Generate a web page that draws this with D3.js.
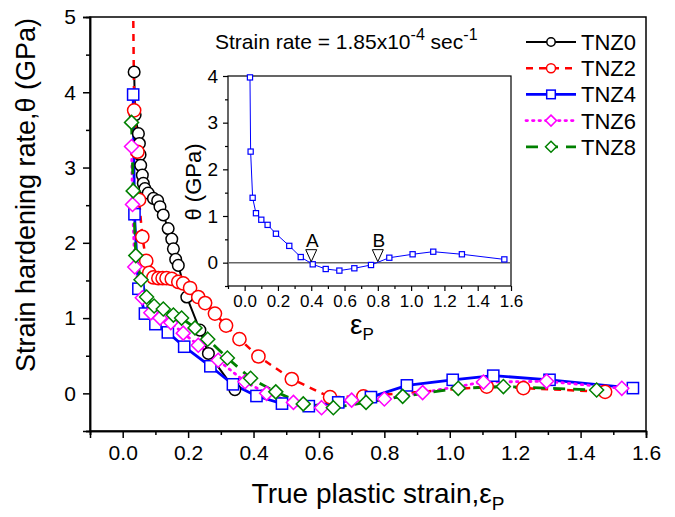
<!DOCTYPE html>
<html><head><meta charset="utf-8">
<script src="https://cdn.jsdelivr.net/npm/d3@7"></script>
<style>
html,body{margin:0;padding:0;background:#fff;}
svg text{font-family:Arial,"Liberation Sans",sans-serif;fill:#000;}
</style></head>
<body><svg id="c" width="675" height="517"></svg>
<script>
// ---- data ----
const seriesNames = ["TNZ0","TNZ2","TNZ4","TNZ6","TNZ8"];
const tnz0 = [[0.035,4.27],[0.038,3.70],[0.048,3.45],[0.051,3.32],[0.053,3.17],[0.055,3.03],[0.060,2.90],[0.063,2.79],[0.068,2.72],[0.078,2.66],[0.094,2.59],[0.107,2.56],[0.114,2.48],[0.124,2.37],[0.139,2.19],[0.150,2.05],[0.155,1.92],[0.162,1.78],[0.170,1.70],[0.196,1.28],[0.236,0.84],[0.262,0.53],[0.343,0.05]];
const tnz2 = [[0.029,6.5],[0.035,3.76],[0.045,3.21],[0.050,2.57],[0.060,2.08],[0.072,1.76],[0.081,1.60],[0.094,1.54],[0.109,1.53],[0.122,1.53],[0.134,1.53],[0.150,1.52],[0.170,1.48],[0.185,1.46],[0.206,1.40],[0.231,1.28],[0.252,1.20],[0.282,1.06],[0.316,0.90],[0.357,0.72],[0.415,0.49],[0.517,0.19],[0.634,-0.05],[0.736,-0.04],[1.113,0.09],[1.225,0.07],[1.475,0.02]];
const tnz4 = [[0.032,3.97],[0.036,2.38],[0.048,1.39],[0.068,1.06],[0.100,0.92],[0.138,0.81],[0.188,0.62],[0.268,0.36],[0.337,0.12],[0.409,-0.035],[0.487,-0.136],[0.569,-0.17],[0.659,-0.12],[0.759,-0.05],[0.869,0.106],[1.009,0.18],[1.133,0.235],[1.305,0.18],[1.560,0.07]];
const tnz6 = [[0.027,3.28],[0.030,2.51],[0.037,1.68],[0.060,1.27],[0.086,1.07],[0.114,1.00],[0.147,0.94],[0.185,0.80],[0.231,0.64],[0.292,0.44],[0.374,0.155],[0.440,0.0],[0.522,-0.12],[0.608,-0.19],[0.700,-0.09],[0.800,-0.075],[0.917,0.01],[1.103,0.15],[1.296,0.16],[1.526,0.067]];
const tnz8 = [[0.027,3.60],[0.032,2.69],[0.040,1.83],[0.056,1.51],[0.073,1.28],[0.096,1.16],[0.124,1.12],[0.155,1.04],[0.180,1.00],[0.221,0.87],[0.260,0.72],[0.320,0.47],[0.391,0.20],[0.468,0.02],[0.552,-0.14],[0.644,-0.19],[0.744,-0.12],[0.856,-0.04],[1.026,0.067],[1.164,0.09],[1.449,0.045]];
const insetData = tnz4;
const annotations = [["A",0.4],["B",0.8]];
const xTicks = [0,0.2,0.4,0.6,0.8,1.0,1.2,1.4,1.6];
const yTicks = [0,1,2,3,4,5];
const insetYTicks = [0,1,2,3,4];

// ---- styles ----
const styles = [
  {data:tnz0,color:"#000000",dash:null,sym:"circle",size:5.8,lw:2,legSize:4.2},
  {data:tnz2,color:"#ff0000",dash:"7,6",sym:"circle",size:6.6,lw:2.5,legSize:4.5},
  {data:tnz4,color:"#0000ff",dash:null,sym:"square",size:5.6,lw:2.8,legSize:4.3},
  {data:tnz6,color:"#ff00ff",dash:"1.5,5",sym:"diamond",size:7,lw:2.8,legSize:5.5},
  {data:tnz8,color:"#008000",dash:"12,8",sym:"diamond",size:7,lw:2.8,legSize:5.5}
];

const svg = d3.select("#c");
const x = d3.scaleLinear([-0.1,1.6],[90,646]);
const y = d3.scaleLinear([-0.5,5],[431,17]);

svg.append("clipPath").attr("id","clip").append("rect")
  .attr("x",90).attr("y",17).attr("width",556).attr("height",414);

function marker(g, sym, cx, cy, r, color, sw){
  if(sym==="circle"){
    g.append("circle").attr("cx",cx).attr("cy",cy).attr("r",r)
      .attr("fill","#fff").attr("stroke",color).attr("stroke-width",sw);
  } else if(sym==="square"){
    g.append("rect").attr("x",cx-r).attr("y",cy-r).attr("width",2*r).attr("height",2*r)
      .attr("fill","#fff").attr("stroke",color).attr("stroke-width",sw);
  } else {
    g.append("path").attr("d",`M${cx},${cy-r}L${cx+r},${cy}L${cx},${cy+r}L${cx-r},${cy}Z`)
      .attr("fill","#fff").attr("stroke",color).attr("stroke-width",sw);
  }
}

const plot = svg.append("g").attr("clip-path","url(#clip)");
const line = d3.line().x(d=>x(d[0])).y(d=>y(d[1]));
styles.forEach(s=>{
  plot.append("path").attr("d",line(s.data)).attr("fill","none")
    .attr("stroke",s.color).attr("stroke-width",s.lw)
    .attr("stroke-dasharray",s.dash).attr("stroke-linecap",s.dash && s.dash.startsWith("1.5")?"round":"butt");
});
styles.forEach(s=>{
  const g = plot.append("g");
  s.data.forEach(d=>marker(g,s.sym,x(d[0]),y(d[1]),s.size,s.color,1.5));
});

// frame
svg.append("rect").attr("x",90).attr("y",17).attr("width",556).attr("height",414)
  .attr("fill","none").attr("stroke","#000").attr("stroke-width",1.5);

// axes
const xAx = svg.append("g").attr("transform","translate(0,431)")
  .call(d3.axisBottom(x).tickValues(xTicks).tickFormat(d3.format(".1f")).tickSize(7).tickPadding(7));
const xMinor = svg.append("g").attr("transform","translate(0,431)")
  .call(d3.axisBottom(x).tickValues(d3.range(-0.1,1.65,0.2)).tickFormat("").tickSize(4));
const yAx = svg.append("g").attr("transform","translate(90,0)")
  .call(d3.axisLeft(y).tickValues(yTicks).tickFormat(d3.format("d")).tickSize(7).tickPadding(7));
const yMinor = svg.append("g").attr("transform","translate(90,0)")
  .call(d3.axisLeft(y).tickValues(d3.range(-0.5,5,1)).tickFormat("").tickSize(4));
[xAx,xMinor,yAx,yMinor].forEach(a=>{
  a.select(".domain").attr("stroke-width",1.5);
  a.selectAll(".tick line").attr("stroke-width",1.5);
  a.selectAll("text").attr("font-size",21).attr("font-family","Arial, Liberation Sans, sans-serif");
});

// axis titles
const xt = svg.append("text").attr("x",378).attr("y",503).attr("text-anchor","middle").attr("font-size",28);
xt.append("tspan").text("True plastic strain,ε");
xt.append("tspan").attr("font-size",19).attr("dy",7).text("P");
svg.append("text").attr("transform","translate(35,195) rotate(-90)").attr("text-anchor","middle")
  .attr("font-size",27).text("Strain hardening rate,θ (GPa)");

// title
const tt = svg.append("text").attr("x",215).attr("y",49).attr("font-size",21);
tt.append("tspan").text("Strain rate = 1.85x10");
tt.append("tspan").attr("dy",-9).attr("font-size",16).text("-4");
tt.append("tspan").attr("dy",9).text(" sec");
tt.append("tspan").attr("dy",-9).attr("font-size",16).text("-1");

// legend
const leg = svg.append("g");
styles.forEach((s,i)=>{
  const ly = 42 + i*26.2;
  leg.append("line").attr("x1",526).attr("x2",576).attr("y1",ly).attr("y2",ly)
    .attr("stroke",s.color).attr("stroke-width",s.lw)
    .attr("stroke-dasharray",s.dash).attr("stroke-linecap",s.dash && s.dash.startsWith("1.5")?"round":"butt");
  marker(leg,s.sym,551,ly,s.legSize,s.color,1.5);
  leg.append("text").attr("x",581).attr("y",ly+8).attr("font-size",22).text(seriesNames[i]);
});

// inset
const ix = d3.scaleLinear([-0.1,1.6],[228,511]);
const iy = d3.scaleLinear([-0.5,4],[286,76]);
const ins = svg.append("g");
ins.append("rect").attr("x",228).attr("y",76).attr("width",283).attr("height",210)
  .attr("fill","#fff").attr("stroke","#000").attr("stroke-width",1.2);
ins.append("line").attr("x1",228).attr("x2",511).attr("y1",iy(0)).attr("y2",iy(0))
  .attr("stroke","#666").attr("stroke-width",1.5);
ins.append("path").attr("d",d3.line().x(d=>ix(d[0])).y(d=>iy(d[1]))(insetData))
  .attr("fill","none").attr("stroke","#0000ff").attr("stroke-width",1);
insetData.forEach(d=>marker(ins,"square",ix(d[0]),iy(d[1]),2.6,"#0000ff",1.2));
annotations.forEach(a=>{
  const px = ix(a[1]), py = iy(0);
  ins.append("path").attr("d",`M${px},${py-1}L${px-5.5},${py-13}L${px+5.5},${py-13}Z`)
    .attr("fill","#fff").attr("stroke","#000").attr("stroke-width",1);
  ins.append("text").attr("x",px+1).attr("y",py-16).attr("text-anchor","middle").attr("font-size",19).text(a[0]);
});
const ixAx = ins.append("g").attr("transform","translate(0,286)")
  .call(d3.axisBottom(ix).tickValues(xTicks).tickFormat(d3.format(".1f")).tickSize(5).tickPadding(4));
const ixMin = ins.append("g").attr("transform","translate(0,286)")
  .call(d3.axisBottom(ix).tickValues(d3.range(-0.1,1.65,0.2)).tickFormat("").tickSize(3));
const iyAx = ins.append("g").attr("transform","translate(228,0)")
  .call(d3.axisLeft(iy).tickValues(insetYTicks).tickFormat(d3.format("d")).tickSize(5).tickPadding(5));
const iyMin = ins.append("g").attr("transform","translate(228,0)")
  .call(d3.axisLeft(iy).tickValues(d3.range(-0.5,4,1)).tickFormat("").tickSize(3));
[ixAx,ixMin,iyAx,iyMin].forEach(a=>{
  a.select(".domain").remove();
  a.selectAll(".tick line").attr("stroke-width",1.2);
  a.selectAll("text").attr("font-size",17).attr("font-family","Arial, Liberation Sans, sans-serif");
});
iyAx.selectAll("text").attr("font-size",19);
const it = ins.append("text").attr("x",362).attr("y",334).attr("text-anchor","middle").attr("font-size",28);
it.append("tspan").text("ε");
it.append("tspan").attr("font-size",17).attr("dy",6).text("P");
ins.append("text").attr("transform","translate(201,182) rotate(-90)").attr("text-anchor","middle")
  .attr("font-size",22).text("θ (GPa)");
</script></body></html>
